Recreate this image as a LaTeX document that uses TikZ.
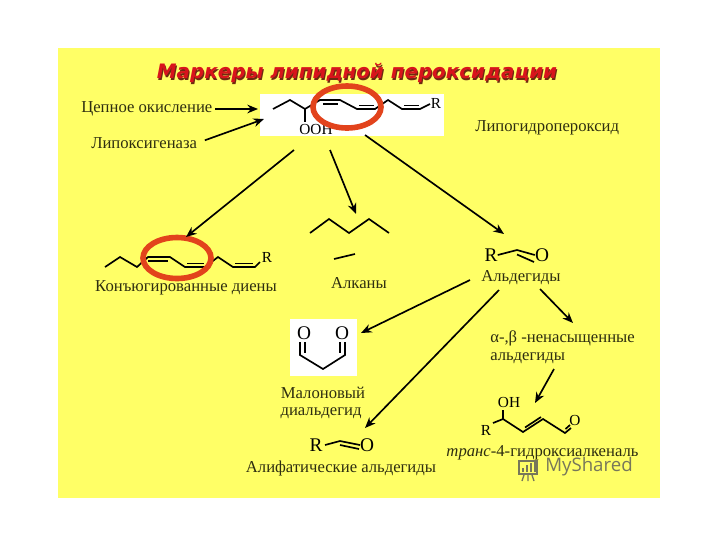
\documentclass[tikz,border=0pt]{standalone}
\usepackage{fontspec}
\setmainfont{Liberation Serif}
\newfontfamily\titlefont{DejaVu Sans}
\newfontfamily\wmfont{Open Sans}
\usetikzlibrary{arrows.meta}
\definecolor{slide}{HTML}{FFFF66}
\definecolor{ink}{HTML}{2E2E10}
\definecolor{ringred}{HTML}{E2431C}
\definecolor{titlered}{HTML}{D8141C}
\definecolor{titleshade}{HTML}{6E2A10}
\definecolor{wm}{HTML}{77775A}
\tikzset{
  lbl/.style={inner sep=0pt,text=ink,font=\fontsize{12.5}{14}\selectfont},
  atom/.style={inner sep=0pt,text=black,font=\fontsize{11.5}{13}\selectfont},
  bigatom/.style={inner sep=0pt,text=black,font=\fontsize{14.5}{16}\selectfont},
  arr/.style={draw=black,line width=1.25pt,-{Stealth[length=8pt,width=6.5pt]}},
  bond/.style={draw=black,line width=1.25pt,line join=miter},
  ring/.style={draw=ringred,line width=4.2pt},
  whitebox/.style={fill=white,draw=none,inner sep=0pt},
  titletext/.style={inner sep=0pt,font=\titlefont\bfseries\itshape\fontsize{14.9}{17}\selectfont}
}
\begin{document}
\begin{tikzpicture}[x=0.75pt,y=-0.75pt]
\useasboundingbox (0,0) rectangle (720,540);
\fill[white] (0,0) rectangle (720,540);
\fill[slide] (58,48) rectangle (660,498);
% title
\node[titletext,text=titleshade] (titleshadow) at (358,74.5) {Маркеры липидной пероксидации};
\node[titletext,text=titlered] (title) at (357,73) {Маркеры липидной пероксидации};
% main molecule
\node[whitebox,minimum width=184*0.75pt,minimum height=42*0.75pt] (mainbox) at (352,115) {};
\draw[bond] (273,109)--(290,100)--(305,109)--(320,100)--(340,100)--(357,109)--(375,109)--(388,100)--(402,109)--(420,109)--(430,104);
\draw[bond] (323,104)--(338,104);
\draw[bond] (359,105.5)--(374,105.5);
\draw[bond] (404,105.5)--(419,105.5);
\draw[bond] (305,109)--(305,122);
\node[atom] (ooh) at (316,129) {OOH};
\node[atom] (mainr) at (436,103) {R};
\draw[ring] (347,107) ellipse [x radius=34,y radius=21];
% labels top
\node[lbl,anchor=west] (chainlabel) at (81,109) {Цепное окисление};
\node[lbl,anchor=west] (lipox) at (91,143) {Липоксигеназа};
\node[lbl,anchor=west] (lipohp) at (475,128) {Липогидропероксид};
\coordinate (mainarrA) at (258,109);
\coordinate (mainarrB) at (264,119);
\draw[arr,shorten <=2pt] (chainlabel.east) -- (mainarrA);
\draw[arr,shorten <=6pt] (lipox.east) -- (mainarrB);
% diene
\draw[bond] (105,267)--(120,257)--(137,267)--(148,257)--(170,257)--(185,267)--(205,267)--(218,257)--(233,267)--(255,267)--(260,262);
\draw[bond] (148,261)--(168,261);
\draw[bond] (187,263.5)--(204,263.5);
\draw[bond] (235,263.5)--(253,263.5);
\node[atom] (dienr) at (267,257) {R};
\draw[ring] (177,258) ellipse [x radius=34,y radius=20.5];
\node[lbl] (dienlabel) at (186,288) {Конъюгированные диены};
% alkane
\draw[bond] (310,233)--(329,219)--(349,233)--(369,219)--(389,233);
\draw[bond] (334,259)--(355,254);
\node[lbl] (alklabel) at (359,283) {Алканы};
% aldehyde
\node[bigatom] (aldr) at (491,255) {R};
\node[bigatom] (aldo) at (542,255) {O};
\draw[bond] (aldr.east) -- (517,250) -- (aldo.west);
\draw[bond] (517,254.5) -- (534,262);
\node[lbl] (aldlabel) at (521,278) {Альдегиды};
% arrows from main
\coordinate (mA) at (294,150);
\coordinate (mB) at (330,150);
\coordinate (mC) at (365,135);
\coordinate (dTop) at (186,237);
\coordinate (aTop) at (356,214);
\coordinate (alTop) at (504,234);
\draw[arr] (mA) -- (dTop);
\draw[arr] (mB) -- (aTop);
\draw[arr] (mC) -- (alTop);
% malonic dialdehyde
\node[whitebox,minimum width=67*0.75pt,minimum height=57*0.75pt] (malbox) at (323.5,347.5) {};
\node[bigatom] (malo1) at (304,333) {O};
\node[bigatom] (malo2) at (342,333) {O};
\draw[bond] (300,342)--(300,355)--(323,369)--(345,355)--(345,342);
\draw[bond] (305,342)--(305,353);
\draw[bond] (340,342)--(340,353);
\node[lbl] (mallabelA) at (323,393) {Малоновый};
\node[lbl] (mallabelB) at (321,413) {диальдегид};
% aliphatic
\node[bigatom] (alir) at (316,445) {R};
\node[bigatom] (alio) at (367,445) {O};
\draw[bond] (325,445)--(340,441)--(360,445);
\draw[bond] (340,445)--(359,449);
\node[lbl] (alilabel) at (341,468) {Алифатические альдегиды};
% unsaturated
\node[lbl,anchor=west] (unsA) at (490,338) {α-,β -ненасыщенные};
\node[lbl,anchor=west] (unsB) at (490,358) {альдегиды};
\coordinate (aldA) at (470,280);
\coordinate (aldB) at (499,290);
\coordinate (aldC) at (540,289);
\coordinate (malEnd) at (361,333);
\coordinate (aliEnd) at (365,428);
\coordinate (unsEnd) at (573,323);
\draw[arr] (aldA) -- (malEnd);
\draw[arr] (aldB) -- (aliEnd);
\draw[arr] (aldC) -- (unsEnd);
% trans-4-hydroxyalkenal
\node[atom] (oh) at (509,402) {OH};
\node[atom] (tr) at (486,430) {R};
\node[atom] (to) at (575,420) {O};
\draw[bond] (493,423)--(503,419)--(523,432)--(543,419)--(565,433)--(571,428);
\draw[bond] (525,427.5)--(541,417);
\draw[bond] (503,419)--(503,410);
\draw[bond] (565.5,429)--(570,425);
\coordinate (unsArrS) at (554,369);
\coordinate (unsArrE) at (535,403);
\draw[arr] (unsArrS) -- (unsArrE);
\node[lbl] (translabel) at (542.5,453) {\textit{транс}-4-гидроксиалкеналь};
% watermark
\node[inner sep=0pt,text=wm,font=\wmfont\fontsize{14}{16}\selectfont,anchor=west] (wmtext) at (545,466.5) {MyShared};
\begin{scope}[draw=wm,line width=1pt]
\draw (519,461) rectangle (537,474);
\draw[line width=1.6pt] (523,472)--(523,468) (527,472)--(527,465) (531,472)--(531,463) (535,472)--(535,461);
\draw (524,475)--(522,481) (528,475)--(528,481) (532,475)--(534,481);
\end{scope}
\end{tikzpicture}
\end{document}
